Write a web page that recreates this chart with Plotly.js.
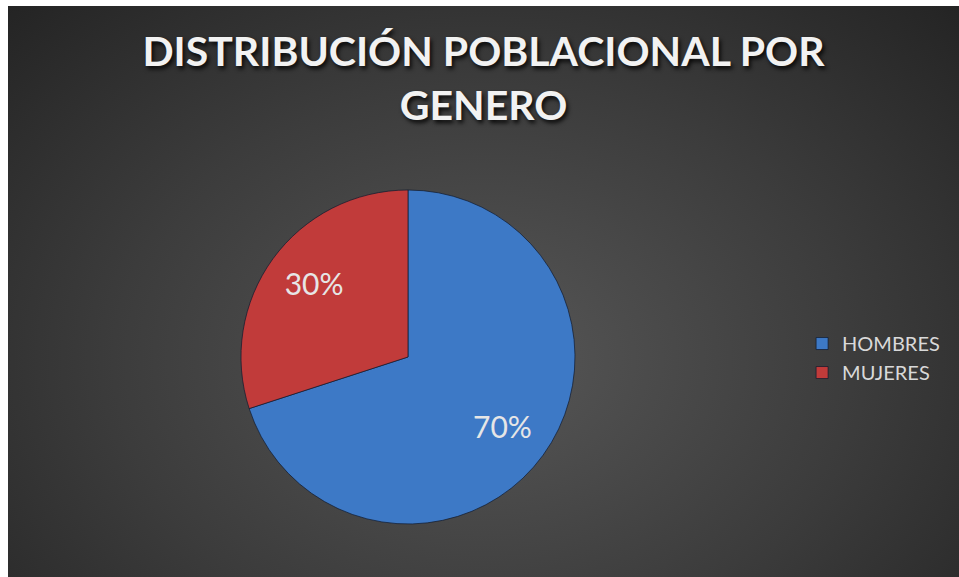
<!DOCTYPE html>
<html>
<head>
<meta charset="utf-8">
<script src="https://cdn.plot.ly/plotly-3.0.1.min.js"></script>
<style>
  html, body { margin: 0; padding: 0; background: #fff; }
  /* dark chart area with radial glow, white frame on left/top */
  #chart {
    width: 959px; height: 577px;
    background: #fff radial-gradient(ellipse at 50% 62%, #575757 0%, #3c3c3c 55%, #242424 100%) no-repeat 8px 6px / 951px 571px;
  }
</style>
</head>
<body>
<div id="chart"></div>
<script>
// DATA
const labels = ['HOMBRES', 'MUJERES']
const values = [70, 30]
const colors = ['#3d79c6', '#c13b3a']

// nudge the percent labels outward, like the Excel original (padding only)
const NB = '\u00a0'
const labelTemplates = [
  NB + '<br>' + NB.repeat(7) + '%{percent}',
  '%{percent}' + NB.repeat(5) + '<br>' + NB,
]

const pie = {
  type: 'pie',
  labels: labels,
  values: values,
  sort: false,
  direction: 'clockwise',
  rotation: 0,
  texttemplate: labelTemplates,
  textposition: 'inside',
  insidetextorientation: 'horizontal',
  insidetextfont: { family: 'Lato', size: 30, color: '#e6e6e6' },
  marker: { colors: colors, line: { color: 'rgba(15,25,45,0.7)', width: 1 } },
  domain: { x: [0.2450, 0.5962], y: [0.0928, 0.6778] },
  hoverinfo: 'label+percent',
}

const layout = {
  width: 959,
  height: 577,
  margin: { l: 8, r: 0, t: 6, b: 0 },
  paper_bgcolor: 'rgba(0,0,0,0)',
  title: {
    text: 'DISTRIBUCIÓN POBLACIONAL POR<br>GENERO',
    x: 0.5,
    xref: 'paper',
    y: 0.885,
    yref: 'container',
    yanchor: 'top',
    font: {
      family: 'Lato, sans-serif',
      size: 41,
      weight: 'bold',
      color: '#f2f2f2',
      shadow: '2px 3px 4px rgba(0,0,0,0.85)',
    },
  },
  showlegend: true,
  legend: {
    x: 0.835,
    y: 0.3835,
    xanchor: 'left',
    yanchor: 'middle',
    font: { family: 'Lato, sans-serif', size: 20, color: '#d9d9d9' },
    bgcolor: 'rgba(0,0,0,0)',
  },
}

Plotly.newPlot('chart', [pie], layout, { displayModeBar: false })
</script>
</body>
</html>
